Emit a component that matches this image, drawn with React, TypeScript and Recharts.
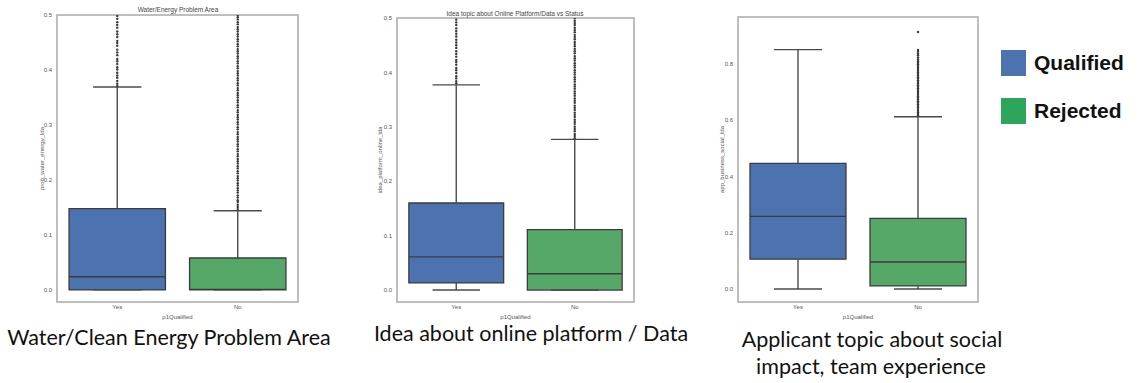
import React from "react";
import { ComposedChart, XAxis, YAxis, ReferenceArea, ReferenceLine, Scatter } from "recharts";

// x categories (p1Qualified) and the legend names of the two groups
const groups = ["Yes", "No"];
const seriesNames = ["Qualified", "Rejected"];
const boxFills = ["#4C72B0", "#55A868"];
const legendFills = ["#4C72B0", "#2EA55C"];

type BoxStats = { lo: number; q1: number; med: number; q3: number; hi: number };

// prob_water_energy_lda
const waterStats: BoxStats[] = [
  { lo: 0, q1: 0, med: 0.024, q3: 0.148, hi: 0.369 },
  { lo: 0, q1: 0, med: 0.001, q3: 0.058, hi: 0.144 },
];
const waterFliersYes = [0.371, 0.375, 0.38, 0.386, 0.39, 0.395, 0.401, 0.405, 0.411, 0.416, 0.42, 0.427, 0.432, 0.437, 0.444, 0.449, 0.453, 0.46, 0.465, 0.47, 0.477, 0.482, 0.487, 0.493, 0.498];
const waterFliersNo = [0.147, 0.151, 0.155, 0.16, 0.163, 0.168, 0.172, 0.177, 0.181, 0.185, 0.19, 0.194, 0.199, 0.203, 0.207, 0.212, 0.216, 0.221, 0.225, 0.23, 0.234, 0.238, 0.243, 0.247, 0.252, 0.256, 0.261, 0.265, 0.27, 0.274, 0.278, 0.283, 0.287, 0.292, 0.296, 0.301, 0.305, 0.31, 0.314, 0.318, 0.323, 0.327, 0.332, 0.336, 0.341, 0.345, 0.35, 0.354, 0.358, 0.363, 0.367, 0.372, 0.376, 0.381, 0.385, 0.39, 0.394, 0.398, 0.403, 0.407, 0.412, 0.416, 0.421, 0.425, 0.43, 0.434, 0.438, 0.443, 0.447, 0.452, 0.456, 0.461, 0.465, 0.47, 0.474, 0.478, 0.483, 0.487, 0.492, 0.496, 0.5];

// idea_platform_online_lda
const platformStats: BoxStats[] = [
  { lo: 0, q1: 0.013, med: 0.061, q3: 0.16, hi: 0.377 },
  { lo: 0, q1: 0, med: 0.03, q3: 0.111, hi: 0.277 },
];
const platformFliersYes = [0.38, 0.384, 0.389, 0.393, 0.399, 0.404, 0.408, 0.414, 0.419, 0.423, 0.429, 0.434, 0.439, 0.445, 0.45, 0.455, 0.46, 0.466, 0.471, 0.476, 0.481, 0.487, 0.492, 0.497];
const platformFliersNo = [0.279, 0.283, 0.287, 0.292, 0.296, 0.3, 0.305, 0.309, 0.313, 0.318, 0.322, 0.326, 0.331, 0.335, 0.339, 0.344, 0.348, 0.352, 0.357, 0.361, 0.365, 0.37, 0.374, 0.378, 0.383, 0.387, 0.391, 0.396, 0.4, 0.404, 0.409, 0.413, 0.417, 0.422, 0.426, 0.43, 0.435, 0.439, 0.443, 0.448, 0.452, 0.456, 0.461, 0.465, 0.469, 0.474, 0.478, 0.482, 0.487, 0.491, 0.495, 0.5];

// app_business_social_lda
const socialStats: BoxStats[] = [
  { lo: 0, q1: 0.106, med: 0.258, q3: 0.446, hi: 0.85 },
  { lo: 0, q1: 0.011, med: 0.096, q3: 0.251, hi: 0.612 },
];
const socialFliersYes: number[] = [];
const socialFliersNo = [0.616, 0.622, 0.628, 0.633, 0.639, 0.645, 0.65, 0.656, 0.662, 0.667, 0.673, 0.679, 0.684, 0.69, 0.696, 0.701, 0.707, 0.713, 0.718, 0.724, 0.73, 0.735, 0.741, 0.747, 0.752, 0.758, 0.764, 0.769, 0.775, 0.781, 0.786, 0.792, 0.798, 0.803, 0.809, 0.815, 0.822, 0.83, 0.836, 0.843, 0.849, 0.913];

const halfTicks = [0, 0.1, 0.2, 0.3, 0.4, 0.5];
const socialTicks = [0, 0.2, 0.4, 0.6, 0.8];

const smallFont = { fontSize: 6, fill: "#555", fontFamily: "Liberation Sans, Arial, sans-serif" };
const lineColor = "#4a4a4a";
const frameColor = "#a9a9a9";

type Frame = { l: number; r: number; t: number; b: number };

interface PanelProps {
  left: number;
  width: number;
  frame: Frame;
  domain: [number, number];
  ticks: number[];
  stats: BoxStats[];
  fliers: number[][];
  yLabel: string;
  yLabelX: number;
}

function BoxPanel({ left, width, frame, domain, ticks, stats, fliers, yLabel, yLabelX }: PanelProps) {
  const height = 325;
  const xAxisH = 20;
  const margin = { top: frame.t, right: left + width - frame.r, bottom: height - frame.b - xAxisH, left: 0 };
  const half = 0.4;
  const cap = 0.2;

  const marks = stats.flatMap((s, i) => [
    <ReferenceLine key={`wl${i}`} segment={[{ x: i, y: s.lo }, { x: i, y: s.q1 }]} stroke={lineColor} strokeWidth={1.4} />,
    <ReferenceLine key={`wh${i}`} segment={[{ x: i, y: s.q3 }, { x: i, y: s.hi }]} stroke={lineColor} strokeWidth={1.4} />,
    <ReferenceLine key={`cl${i}`} segment={[{ x: i - cap, y: s.lo }, { x: i + cap, y: s.lo }]} stroke={lineColor} strokeWidth={1.4} />,
    <ReferenceLine key={`ch${i}`} segment={[{ x: i - cap, y: s.hi }, { x: i + cap, y: s.hi }]} stroke={lineColor} strokeWidth={1.4} />,
    <ReferenceArea key={`b${i}`} x1={i - half} x2={i + half} y1={s.q1} y2={s.q3} fill={boxFills[i]} fillOpacity={1} stroke="#3c3c3c" strokeWidth={1.3} />,
    <ReferenceLine key={`m${i}`} segment={[{ x: i - half, y: s.med }, { x: i + half, y: s.med }]} stroke="#3c3c3c" strokeWidth={1.4} />,
  ]);

  return (
    <div style={{ position: "absolute", left, top: 0 }}>
      <ComposedChart width={width} height={height} margin={margin}>
        <XAxis
          dataKey="x"
          type="number"
          domain={[-0.5, 1.5]}
          ticks={[0, 1]}
          tickFormatter={(v: number) => groups[v]}
          tickLine={false}
          tickSize={0}
          tickMargin={3}
          height={xAxisH}
          tick={smallFont}
          axisLine={false}
          label={{ value: "p1Qualified", position: "insideBottom", offset: 3, style: smallFont }}
        />
        <YAxis
          dataKey="y"
          type="number"
          domain={domain}
          ticks={ticks}
          allowDataOverflow
          width={frame.l - left}
          tickFormatter={(v: number) => v.toFixed(1)}
          tickLine={false}
          tickSize={0}
          tickMargin={5}
          tick={smallFont}
          axisLine={false}
          label={{ value: yLabel, angle: -90, position: "insideLeft", offset: yLabelX - left, style: { ...smallFont, textAnchor: "middle" } }}
        />
        {/* axes frame around the plot area */}
        <ReferenceArea x1={-0.5} x2={1.5} y1={domain[0]} y2={domain[1]} fill="none" stroke={frameColor} strokeWidth={1.5} ifOverflow="visible" />
        {marks}
        {fliers.map((vals, i) => (
          <Scatter
            key={`f${i}`}
            data={vals.map((v) => ({ x: i, y: v }))}
            isAnimationActive={false}
            shape={(p: any) => <circle cx={p.cx} cy={p.cy} r={1.2} fill="#3a3a3a" />}
          />
        ))}
      </ComposedChart>
    </div>
  );
}

function Centered({ x, y, children, style }: { x: number; y: number; children: React.ReactNode; style: React.CSSProperties }) {
  return (
    <div style={{ position: "absolute", left: x, top: y, transform: "translate(-50%, -50%)", whiteSpace: "nowrap", lineHeight: 1, ...style }}>
      {children}
    </div>
  );
}

const titleStyle: React.CSSProperties = { fontSize: 6.5, color: "#444", fontFamily: "Liberation Sans, Arial, sans-serif" };
const captionStyle: React.CSSProperties = { fontSize: 21.5, color: "#111", fontFamily: "Lato, sans-serif" };

export default function App() {
  return (
    <div style={{ position: "absolute", left: 0, top: 0, width: 1139, height: 383, background: "#fff", overflow: "hidden" }}>
      <BoxPanel
        left={0}
        width={310}
        frame={{ l: 57, r: 298, t: 15, b: 302 }}
        domain={[-0.022, 0.5]}
        ticks={halfTicks}
        stats={waterStats}
        fliers={[waterFliersYes, waterFliersNo]}
        yLabel="prob_water_energy_lda"
        yLabelX={42}
      />
      <BoxPanel
        left={340}
        width={310}
        frame={{ l: 397, r: 634, t: 18, b: 302 }}
        domain={[-0.022, 0.5]}
        ticks={halfTicks}
        stats={platformStats}
        fliers={[platformFliersYes, platformFliersNo]}
        yLabel="idea_platform_online_lda"
        yLabelX={380}
      />
      <BoxPanel
        left={690}
        width={300}
        frame={{ l: 738, r: 978, t: 17, b: 302 }}
        domain={[-0.046, 0.966]}
        ticks={socialTicks}
        stats={socialStats}
        fliers={[socialFliersYes, socialFliersNo]}
        yLabel="app_business_social_lda"
        yLabelX={722}
      />

      <Centered x={178} y={10} style={titleStyle}>Water/Energy Problem Area</Centered>
      <Centered x={515} y={14} style={titleStyle}>Idea topic about Online Platform/Data vs Status</Centered>

      <Centered x={169} y={338} style={captionStyle}>Water/Clean Energy Problem Area</Centered>
      <Centered x={531} y={334} style={captionStyle}>Idea about online platform / Data</Centered>
      <Centered x={872} y={340} style={captionStyle}>Applicant topic about social</Centered>
      <Centered x={871} y={367} style={captionStyle}>impact, team experience</Centered>

      {seriesNames.map((name, i) => (
        <div key={name} style={{ position: "absolute", left: 1001, top: 50 + i * 48, display: "flex", alignItems: "center" }}>
          <div style={{ width: 25, height: 26, background: legendFills[i] }} />
          <span style={{ marginLeft: 8, fontSize: 21, fontWeight: 700, fontFamily: "Liberation Sans, Arial, sans-serif", color: "#111" }}>{name}</span>
        </div>
      ))}
    </div>
  );
}
